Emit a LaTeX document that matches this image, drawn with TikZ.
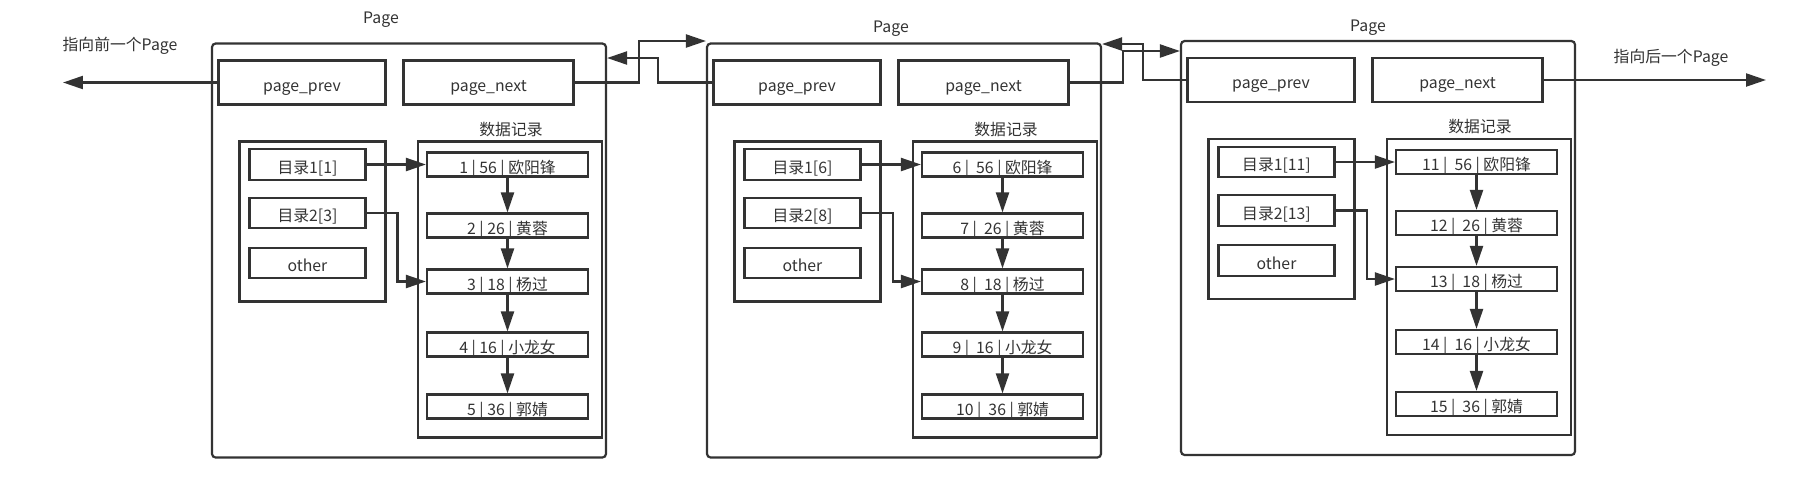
\documentclass[tikz,border=0pt]{standalone}
\usepackage{fontspec}
\newfontfamily\cjk{Noto Sans CJK SC}
\usetikzlibrary{arrows.meta}
\definecolor{ink}{HTML}{333333}

\begin{document}
\begin{tikzpicture}[x=0.02cm, y=0.02cm]
		\tikzstyle{every node}+=[inner sep=0pt, text=ink, font=\cjk\fontsize{9}{11}\selectfont]
		\tikzstyle{pagebox}=[draw=ink, line width=1.25pt, rounded corners=2pt, minimum width=7.88cm, minimum height=8.28cm]
		\tikzstyle{ptrbox}=[draw=ink, line width=1.25pt, minimum height=0.88cm, text height=1em, text depth=0pt]
		\tikzstyle{groupbox}=[draw=ink, line width=1.25pt, minimum width=2.92cm, minimum height=3.2cm]
		\tikzstyle{databox}=[draw=ink, line width=1.25pt, minimum width=3.68cm, minimum height=5.92cm]
		\tikzstyle{dirbox}=[draw=ink, line width=1.25pt, minimum width=2.32cm, minimum height=0.61cm, text height=1em, text depth=0pt]
		\tikzstyle{recbox}=[draw=ink, line width=1.25pt, minimum width=3.22cm, minimum height=0.48cm, text height=1em, text depth=0pt]
		\tikzstyle{arr}=[draw=ink, line width=1.25pt, -{Triangle[length=4mm,width=2.6mm]}]
		\useasboundingbox (0,0) rectangle (1797,-485);
		\node (pg1) [pagebox] at (409,-250.5) {};
		\node (pl1) at (381,-20) {Page};
		\node (pv1) [ptrbox, minimum width=3.34cm] at (302,-82.5) {page\_prev};
		\node (nx1) [ptrbox, minimum width=3.4cm] at (488.5,-82.5) {page\_next};
		\node (dg1) [groupbox] at (312.5,-221.5) {};
		\node (db1) [databox] at (510,-289.5) {};
		\node (dl1) at (511,-129) {数据记录};
		\node (d11) [dirbox] at (307.5,-164.5) {目录1[1]};
		\node (d12) [dirbox] at (307.5,-213) {目录2[3]};
		\node (d13) [dirbox] at (307.5,-263) {other};
		\node (r11) [recbox] at (507.5,-164.5) {1 | 56 | 欧阳锋};
		\node (r12) [recbox] at (507.5,-225.5) {2 | 26 | 黄蓉};
		\node (r13) [recbox] at (507.5,-281.5) {3 | 18 | 杨过};
		\node (r14) [recbox] at (507.5,-344.5) {4 | 16 | 小龙女};
		\node (r15) [recbox] at (507.5,-406.5) {5 | 36 | 郭婧};
		\node (pg2) [pagebox] at (904,-250.5) {};
		\node (pl2) at (891,-29) {Page};
		\node (pv2) [ptrbox, minimum width=3.34cm] at (797,-82.5) {page\_prev};
		\node (nx2) [ptrbox, minimum width=3.4cm] at (983.5,-82.5) {page\_next};
		\node (dg2) [groupbox] at (807.5,-221.5) {};
		\node (db2) [databox] at (1005,-289.5) {};
		\node (dl2) at (1006,-129) {数据记录};
		\node (d21) [dirbox] at (802.5,-164.5) {目录1[6]};
		\node (d22) [dirbox] at (802.5,-213) {目录2[8]};
		\node (d23) [dirbox] at (802.5,-263) {other};
		\node (r21) [recbox] at (1002.5,-164.5) {6 |~~56 | 欧阳锋};
		\node (r22) [recbox] at (1002.5,-225.5) {7 |~~26 | 黄蓉};
		\node (r23) [recbox] at (1002.5,-281.5) {8 |~~18 | 杨过};
		\node (r24) [recbox] at (1002.5,-344.5) {9 |~~16 | 小龙女};
		\node (r25) [recbox] at (1002.5,-406.5) {10 |~~36 | 郭婧};
		\node (pg3) [pagebox] at (1378,-248) {};
		\node (pl3) at (1368,-28) {Page};
		\node (pv3) [ptrbox, minimum width=3.34cm] at (1271,-80) {page\_prev};
		\node (nx3) [ptrbox, minimum width=3.4cm] at (1457.5,-80) {page\_next};
		\node (dg3) [groupbox] at (1281.5,-219) {};
		\node (db3) [databox] at (1479,-287) {};
		\node (dl3) at (1480,-126.5) {数据记录};
		\node (d31) [dirbox] at (1276.5,-162) {目录1[11]};
		\node (d32) [dirbox] at (1276.5,-210.5) {目录2[13]};
		\node (d33) [dirbox] at (1276.5,-260.5) {other};
		\node (r31) [recbox] at (1476.5,-162) {11 |~~56 | 欧阳锋};
		\node (r32) [recbox] at (1476.5,-223) {12 |~~26 | 黄蓉};
		\node (r33) [recbox] at (1476.5,-279) {13 |~~18 | 杨过};
		\node (r34) [recbox] at (1476.5,-342) {14 |~~16 | 小龙女};
		\node (r35) [recbox] at (1476.5,-404) {15 |~~36 | 郭婧};
		\node (prevlbl) at (120,-46) {指向前一个Page};
		\node (nextlbl) at (1671,-58) {指向后一个Page};
		\coordinate (prevend) at (63,-82.5);
		\coordinate (nextend) at (1766,-80);
		\draw [arr] (pv1.west) -- (prevend);
		\draw [arr] (nx3.east) -- (nextend);
		\draw [arr] (nx1.east) -| (639,-41) -- (pg2.west |- 0,-41);
		\draw [arr] (pv2.west) -| (658,-58) -- (pg1.east |- 0,-58);
		\draw [arr] (nx2.east) -| (1123,-51) -- (pg3.west |- 0,-51);
		\draw [arr] (pv3.west) -| (1143,-44) -- (pg2.east |- 0,-44);
		\draw [arr] (d11.east) -- (r11.west);
		\draw [arr] (d12.east) -- ++(31,0) |- (r13.west);
		\draw [arr] (r11) -- (r12);
		\draw [arr] (r12) -- (r13);
		\draw [arr] (r13) -- (r14);
		\draw [arr] (r14) -- (r15);
		\draw [arr] (d21.east) -- (r21.west);
		\draw [arr] (d22.east) -- ++(31,0) |- (r23.west);
		\draw [arr] (r21) -- (r22);
		\draw [arr] (r22) -- (r23);
		\draw [arr] (r23) -- (r24);
		\draw [arr] (r24) -- (r25);
		\draw [arr] (d31.east) -- (r31.west);
		\draw [arr] (d32.east) -- ++(31,0) |- (r33.west);
		\draw [arr] (r31) -- (r32);
		\draw [arr] (r32) -- (r33);
		\draw [arr] (r33) -- (r34);
		\draw [arr] (r34) -- (r35);
\end{tikzpicture}
\end{document}
